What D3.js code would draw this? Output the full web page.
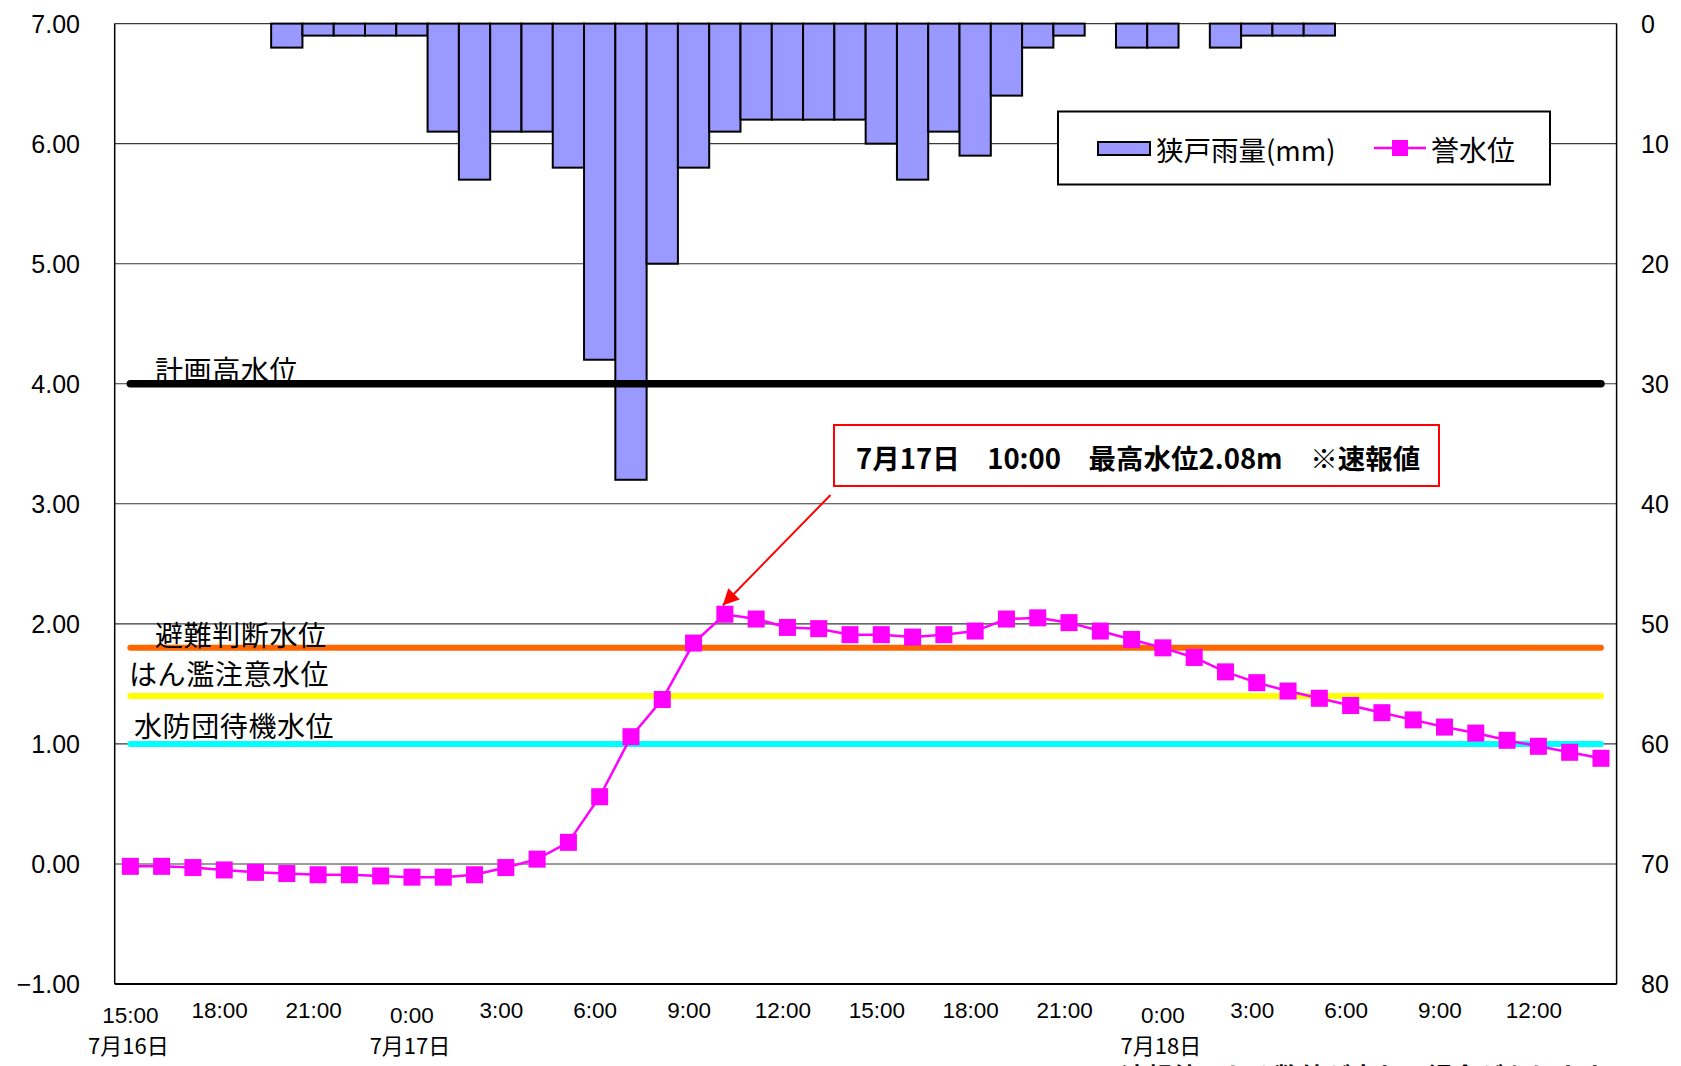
<!DOCTYPE html>
<html>
<head>
<meta charset="utf-8">
<script src="https://cdn.jsdelivr.net/npm/d3@7"></script>
<style>
  html, body { margin: 0; padding: 0; background: #fff; }
  svg { display: block; }
</style>
</head>
<body>
<svg id="chart" width="1681" height="1066"></svg>
<script>
// ---------------- DATA ----------------
const categories = [
  "7/16 15:00","7/16 16:00","7/16 17:00","7/16 18:00","7/16 19:00","7/16 20:00","7/16 21:00","7/16 22:00","7/16 23:00",
  "7/17 0:00","7/17 1:00","7/17 2:00","7/17 3:00","7/17 4:00","7/17 5:00","7/17 6:00","7/17 7:00","7/17 8:00",
  "7/17 9:00","7/17 10:00","7/17 11:00","7/17 12:00","7/17 13:00","7/17 14:00","7/17 15:00","7/17 16:00","7/17 17:00",
  "7/17 18:00","7/17 19:00","7/17 20:00","7/17 21:00","7/17 22:00","7/17 23:00",
  "7/18 0:00","7/18 1:00","7/18 2:00","7/18 3:00","7/18 4:00","7/18 5:00","7/18 6:00","7/18 7:00","7/18 8:00",
  "7/18 9:00","7/18 10:00","7/18 11:00","7/18 12:00","7/18 13:00","7/18 14:00"
];

// 狭戸雨量 (mm) hourly
const rainfall = [
  0, 0, 0, 0, 0, 2, 1, 1, 1,
  1, 9, 13, 9, 9, 12, 28, 38, 20,
  12, 9, 8, 8, 8, 8, 10, 13, 9,
  11, 6, 2, 1, 0, 2,
  2, 0, 2, 1, 1, 1, 0, 0, 0,
  0, 0, 0, 0, 0, 0
];

// 誉水位 (m) hourly
const waterLevel = [
  -0.02, -0.02, -0.03, -0.05, -0.07, -0.08, -0.09, -0.09, -0.10,
  -0.11, -0.11, -0.09, -0.03, 0.04, 0.18, 0.56, 1.06, 1.37,
  1.84, 2.08, 2.04, 1.97, 1.96, 1.91, 1.91, 1.89, 1.91,
  1.94, 2.04, 2.05, 2.01, 1.94, 1.87,
  1.80, 1.72, 1.60, 1.51, 1.44, 1.38, 1.32, 1.26, 1.20,
  1.14, 1.09, 1.03, 0.98, 0.93, 0.88
];

// reference water levels
const refNames  = ["計画高水位", "避難判断水位", "はん濫注意水位", "水防団待機水位"];
const refValues = [4.00, 1.80, 1.40, 1.00];
const refColors = ["#000000", "#ff6600", "#ffff00", "#00ffff"];

// axis ticks
const leftTicks  = [-1, 0, 1, 2, 3, 4, 5, 6, 7];
const rightTicks = [0, 10, 20, 30, 40, 50, 60, 70, 80];
const xTickCats = ["7/16 15:00","7/16 18:00","7/16 21:00","7/17 0:00","7/17 3:00","7/17 6:00","7/17 9:00","7/17 12:00",
                   "7/17 15:00","7/17 18:00","7/17 21:00","7/18 0:00","7/18 3:00","7/18 6:00","7/18 9:00","7/18 12:00"];
const xTickLabels = ["15:00","18:00","21:00","0:00","3:00","6:00","9:00","12:00",
                     "15:00","18:00","21:00","0:00","3:00","6:00","9:00","12:00"];
const dateCats   = ["7/16 15:00", "7/17 0:00", "7/18 0:00"];
const dateLabels = ["7月16日", "7月17日", "7月18日"];

const seriesNames = ["狭戸雨量(mm)", "誉水位"];
const peakCat = "7/17 10:00";
const annotationText = "7月17日　10:00　最高水位2.08m　※速報値";
const footnoteText = "※　速報値のため数値が変わる場合があります";

// ---------------- LAYOUT ----------------
const svg = d3.select("#chart");
const L = 114.7, R = 1616.6, T = 23.6, B = 984;
const JP = "'Noto Sans CJK JP', 'Noto Sans', sans-serif";
const NUM = "'Liberation Sans', Arial, sans-serif";

const x = d3.scaleBand().domain(categories).range([L, R]).padding(0);
const bw = x.bandwidth();
const cx = c => x(c) + bw / 2;
const yL = d3.scaleLinear().domain([-1, 7]).range([B, T]);
const yR = d3.scaleLinear().domain([0, 80]).range([T, B]);

// gridlines
svg.append("g").selectAll("line").data(leftTicks).join("line")
  .attr("x1", L).attr("x2", R)
  .attr("y1", d => yL(d)).attr("y2", d => yL(d))
  .attr("stroke", "#3a3a3a").attr("stroke-width", 1.1);

// bars (rainfall, hanging from top, right axis)
svg.append("g").selectAll("rect").data(categories.map((c, i) => ({c, v: rainfall[i]})).filter(d => d.v > 0)).join("rect")
  .attr("x", d => x(d.c)).attr("width", bw)
  .attr("y", yR(0)).attr("height", d => yR(d.v) - yR(0))
  .attr("fill", "#9999ff").attr("stroke", "#000").attr("stroke-width", 2);

// axis lines
svg.append("line").attr("x1", L).attr("x2", L).attr("y1", T).attr("y2", B).attr("stroke", "#000").attr("stroke-width", 1.5);
svg.append("line").attr("x1", R).attr("x2", R).attr("y1", T).attr("y2", B).attr("stroke", "#000").attr("stroke-width", 1.5);
svg.append("line").attr("x1", L).attr("x2", R).attr("y1", B).attr("y2", B).attr("stroke", "#000").attr("stroke-width", 2);

// reference lines
const xFirst = cx(categories[0]), xLast = cx(categories[categories.length - 1]);
svg.append("g").selectAll("line").data(refValues).join("line")
  .attr("x1", xFirst).attr("x2", xLast)
  .attr("y1", d => yL(d)).attr("y2", d => yL(d))
  .attr("stroke", (d, i) => refColors[i])
  .attr("stroke-width", (d, i) => i === 0 ? 7.5 : 6)
  .attr("stroke-linecap", "round");

// reference labels
const refLabelX  = [155, 155, 129, 134];
const refLabelDy = [-15, -14, -23, -18.5];
svg.append("g").selectAll("text").data(refNames).join("text")
  .attr("x", (d, i) => refLabelX[i])
  .attr("y", (d, i) => yL(refValues[i]) + refLabelDy[i])
  .attr("dominant-baseline", "central")
  .attr("font-family", JP).attr("font-size", 28).attr("letter-spacing", 0.6)
  .attr("fill", "#000")
  .text(d => d);

// water level line
const pts = categories.map((c, i) => ({c, v: waterLevel[i]}));
svg.append("path").datum(pts)
  .attr("d", d3.line().x(d => cx(d.c)).y(d => yL(d.v)))
  .attr("fill", "none").attr("stroke", "#ff00ff").attr("stroke-width", 2.5);
const ms = 17;
svg.append("g").selectAll("rect").data(pts).join("rect")
  .attr("x", d => cx(d.c) - ms / 2).attr("y", d => yL(d.v) - ms / 2)
  .attr("width", ms).attr("height", ms).attr("fill", "#ff00ff");

// left axis labels
svg.append("g").selectAll("text").data(leftTicks).join("text")
  .attr("x", 80).attr("y", d => yL(d))
  .attr("text-anchor", "end").attr("dominant-baseline", "central")
  .attr("font-family", NUM).attr("font-size", 25).attr("fill", "#000")
  .text(d => d3.format(".2f")(d));

// right axis labels
svg.append("g").selectAll("text").data(rightTicks).join("text")
  .attr("x", 1641).attr("y", d => yR(d))
  .attr("text-anchor", "start").attr("dominant-baseline", "central")
  .attr("font-family", NUM).attr("font-size", 25).attr("fill", "#000")
  .text(d => d);

// x labels
svg.append("g").selectAll("text").data(xTickCats).join("text")
  .attr("x", d => cx(d) + (dateCats.includes(d) ? 0 : -4.5))
  .attr("y", d => dateCats.includes(d) ? 1015 : 1010.5)
  .attr("text-anchor", "middle").attr("dominant-baseline", "central")
  .attr("font-family", NUM).attr("font-size", 22.5).attr("fill", "#000")
  .text((d, i) => xTickLabels[i]);
svg.append("g").selectAll("text").data(dateCats).join("text")
  .attr("x", d => cx(d) - 2).attr("y", 1044)
  .attr("text-anchor", "middle").attr("dominant-baseline", "central")
  .attr("font-family", JP).attr("font-size", 22).attr("fill", "#000")
  .text((d, i) => dateLabels[i]);

// legend
const lg = svg.append("g");
lg.append("rect").attr("x", 1058).attr("y", 111.5).attr("width", 492).attr("height", 73)
  .attr("fill", "#fff").attr("stroke", "#000").attr("stroke-width", 2);
lg.append("rect").attr("x", 1098).attr("y", 142).attr("width", 52).attr("height", 13)
  .attr("fill", "#9999ff").attr("stroke", "#000").attr("stroke-width", 2);
lg.append("text").attr("x", 1156).attr("y", 148.5).attr("dominant-baseline", "central")
  .attr("font-family", JP).attr("font-size", 27.5).attr("fill", "#000").text(seriesNames[0]);
lg.append("line").attr("x1", 1374).attr("x2", 1426).attr("y1", 148).attr("y2", 148)
  .attr("stroke", "#ff00ff").attr("stroke-width", 2.5);
lg.append("rect").attr("x", 1400 - 8).attr("y", 148 - 8).attr("width", 16).attr("height", 16).attr("fill", "#ff00ff");
lg.append("text").attr("x", 1431).attr("y", 148.5).attr("dominant-baseline", "central")
  .attr("font-family", JP).attr("font-size", 28).attr("fill", "#000").text(seriesNames[1]);

// annotation
svg.append("defs").append("marker")
  .attr("id", "arrow").attr("viewBox", "0 0 10 10").attr("refX", 10).attr("refY", 5)
  .attr("markerWidth", 9).attr("markerHeight", 8).attr("markerUnits", "strokeWidth")
  .attr("orient", "auto")
  .append("path").attr("d", "M0,0 L10,5 L0,10 z").attr("fill", "#ff0000");
const peakX = cx(peakCat), peakY = yL(waterLevel[categories.indexOf(peakCat)]);
svg.append("line")
  .attr("x1", 830.5).attr("y1", 495)
  .attr("x2", peakX - 2).attr("y2", peakY - 9)
  .attr("stroke", "#ff0000").attr("stroke-width", 2)
  .attr("marker-end", "url(#arrow)");
svg.append("rect").attr("x", 834).attr("y", 425).attr("width", 605).attr("height", 61)
  .attr("fill", "#fff").attr("stroke", "#ff0000").attr("stroke-width", 2);
svg.append("text").attr("x", 856).attr("y", 457)
  .attr("dominant-baseline", "central")
  .attr("font-family", JP).attr("font-size", 27.5).attr("font-weight", "bold").attr("fill", "#000")
  .attr("xml:space", "preserve")
  .text(annotationText);

// footnote (cut off at the bottom edge, as in the reference)
svg.append("text").attr("x", 1070).attr("y", 1086)
  .attr("font-family", JP).attr("font-size", 25.5).attr("font-weight", "bold").attr("fill", "#000")
  .text(footnoteText);
</script>
</body>
</html>
